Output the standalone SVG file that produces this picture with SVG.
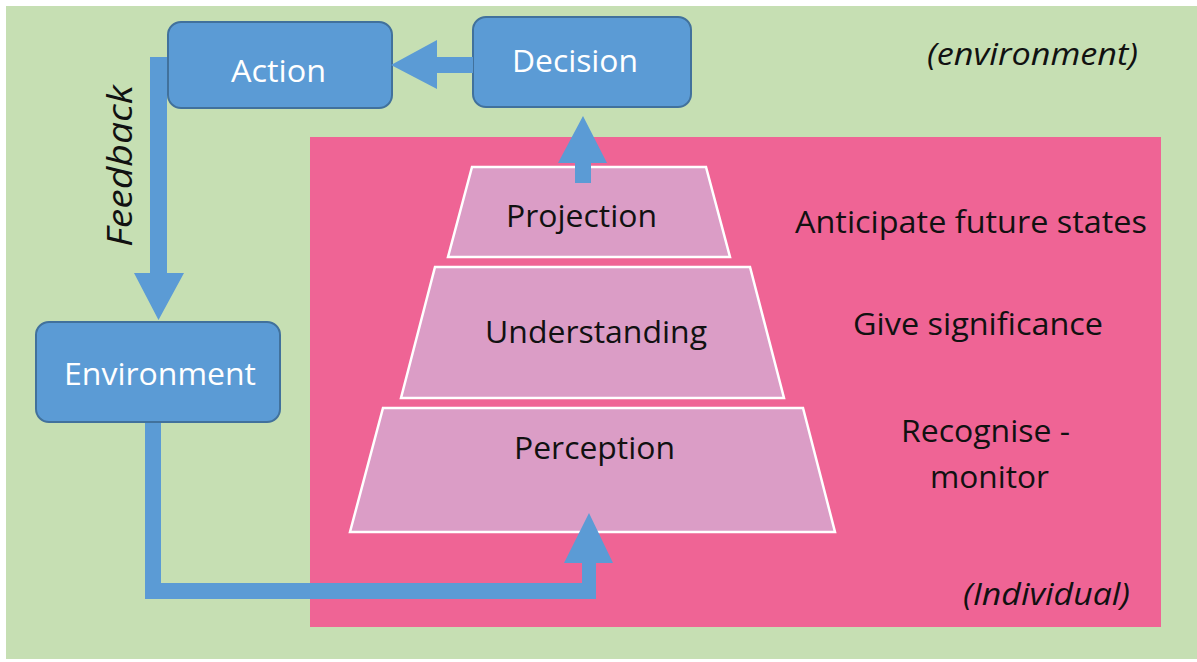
<svg xmlns="http://www.w3.org/2000/svg" width="1197" height="662" viewBox="0 0 1197 662">
  <style>
    .box { fill: #5b9bd5; stroke: #41719c; stroke-width: 2; }
    .trap { fill: #db9dc6; stroke: #ffffff; stroke-width: 2.5; }
    .conn { fill: #5b9bd5; stroke: none; }
    .t { font-family: "Open Sans", "Liberation Sans", sans-serif; font-size: 30.5px; fill: #111111; }
    .w { fill: #ffffff; }
    .i { font-style: italic; }
  </style>
  <rect x="0" y="0" width="1197" height="662" fill="#ffffff"/>
  <rect id="environment-zone" x="6" y="6" width="1191" height="653" fill="#c6dfb3"/>
  <rect id="individual-zone" x="310" y="137" width="851" height="490" fill="#ef6495"/>

  <g id="action">
    <rect class="box" x="168" y="22" width="224" height="86" rx="13"/>
    <text class="t w" x="231" y="82" textLength="95" lengthAdjust="spacingAndGlyphs">Action</text>
  </g>
  <g id="decision">
    <rect class="box" x="473" y="17" width="218" height="90" rx="13"/>
    <text class="t w" x="512" y="72" textLength="126" lengthAdjust="spacingAndGlyphs">Decision</text>
  </g>
  <g id="environment">
    <rect class="box" x="36" y="322" width="244" height="100" rx="13"/>
    <text class="t w" x="64" y="385" textLength="192" lengthAdjust="spacingAndGlyphs">Environment</text>
  </g>

  <g id="perception">
    <polygon class="trap" points="383,408 803,408 835,532 350,532"/>
    <text class="t" x="514" y="459" textLength="161" lengthAdjust="spacingAndGlyphs">Perception</text>
  </g>
  <g id="understanding">
    <polygon class="trap" points="435,267 750,267 784,398 401,398"/>
    <text class="t" x="485" y="343" textLength="222" lengthAdjust="spacingAndGlyphs">Understanding</text>
  </g>
  <g id="projection">
    <polygon class="trap" points="472,167 706,167 730,257 448,257"/>
    <text class="t" x="506" y="227" textLength="151" lengthAdjust="spacingAndGlyphs">Projection</text>
  </g>

  <g id="connectors">
    <polygon class="conn" points="150,57 167,57 167,273 184,273 158.5,320 134,273 150,273"/>
    <polygon class="conn" points="473,57 437,57 437,40 391,65 437,89 437,73 473,73"/>
    <polygon class="conn" points="575,183 591,183 591,163 607,163 583,116 558,163 575,163"/>
    <polygon class="conn" points="145,423 161,423 161,583 582,583 582,563 564,563 589,513 613,563 596,563 596,599 145,599"/>
  </g>

  <g id="feedback-label">
    <text class="t i" transform="translate(132,247) rotate(-90)" x="0" y="0" textLength="162" lengthAdjust="spacingAndGlyphs" style="font-size:35px">Feedback</text>
  </g>

  <g id="labels">
    <text class="t i" x="927" y="65" textLength="211" lengthAdjust="spacingAndGlyphs">(environment)</text>
    <text class="t" x="795" y="233" textLength="352" lengthAdjust="spacingAndGlyphs">Anticipate future states</text>
    <text class="t" x="853" y="335" textLength="250" lengthAdjust="spacingAndGlyphs">Give significance</text>
    <text class="t" x="901" y="442" textLength="169" lengthAdjust="spacingAndGlyphs">Recognise -</text>
    <text class="t" x="930" y="488" textLength="119" lengthAdjust="spacingAndGlyphs">monitor</text>
    <text class="t i" x="963" y="605" textLength="167" lengthAdjust="spacingAndGlyphs">(Individual)</text>
  </g>
</svg>
